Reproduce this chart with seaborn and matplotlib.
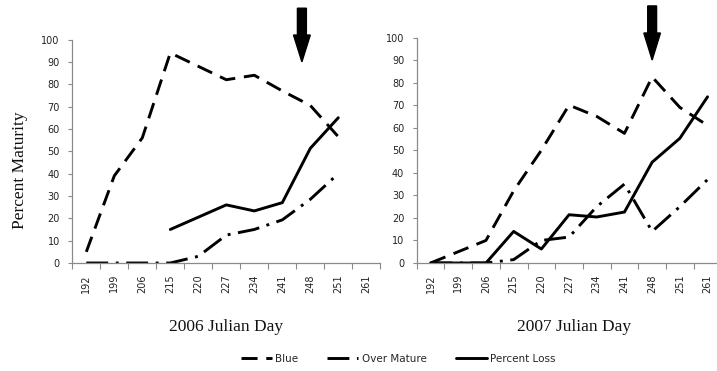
import numpy as np
import pandas as pd
import matplotlib
matplotlib.use("Agg")
import matplotlib.pyplot as plt
from matplotlib.lines import Line2D
from matplotlib.patches import FancyArrow
import seaborn as sns

# ---------------- data ----------------
days = ["192", "199", "206", "215", "220", "227", "234", "241", "248", "251", "261"]

blue_2006 = [5, 39, 56, 94, 88, 82, 84, 77, 70.5, 56.5, np.nan]
over_2006 = [0, 0, 0, 0, 3, 12.5, 15, 19.3, 28.5, 40, np.nan]
loss_2006 = [np.nan, np.nan, np.nan, 15, 20.5, 26, 23.3, 27, 51.3, 65, np.nan]

blue_2007 = [0, 5, 10, 32, 50, 70, 65, 57.5, 82.5, 69, 61]
over_2007 = [0, 0, 0, 1.5, 10, 11.5, 25, 35, 14, 25, 37]
loss_2007 = [0, 0, 0, 14, 6.2, 21.4, 20.4, 22.6, 44.7, 55.3, 73.7]

series_names = ["Blue", "Over Mature", "Percent Loss"]
panel_titles = ["2006 Julian Day", "2007 Julian Day"]
arrow_day = ["248", "248"]
y_ticks = list(range(0, 101, 10))

# ---------------- style ----------------
sns.set_style("white")
plt.rcParams["font.family"] = ["DejaVu Sans"]

W, H = 717, 371
fig = plt.figure(figsize=(W / 100, H / 100), dpi=100)

def frac(x0, y0, w, h):
    return [x0 / W, 1 - (y0 + h) / H, w / W, h / H]

ax_pos = [frac(72.3, 39.5, 308, 223.5), frac(416.7, 37.5, 304.7, 225.5)]

dash_map = {
    "Blue": (5.5, 3.0),
    "Over Mature": (7.5, 2.6, 1.0, 2.6),
    "Percent Loss": "",
}
LW = 2.1

def make_df(b, o, l):
    rows = []
    for name, vals in zip(series_names, [b, o, l]):
        for i, (d, v) in enumerate(zip(days, vals)):
            rows.append({"pos": i, "day": d, "series": name, "value": v})
    df = pd.DataFrame(rows)
    return df.dropna()

data = [make_df(blue_2006, over_2006, loss_2006),
        make_df(blue_2007, over_2007, loss_2007)]

axis_gray = "#8a8a8a"

for k in range(2):
    ax = fig.add_axes(ax_pos[k])
    sns.lineplot(data=data[k], x="pos", y="value", style="series",
                 style_order=series_names, dashes=dash_map, color="black",
                 linewidth=LW, legend=False, ax=ax, estimator=None, sort=True)
    ax.set_xlim(-0.5, len(days) - 0.5)
    ax.set_ylim(0, 100)
    ax.set_xticks(np.arange(-0.5, len(days), 1.0))
    ax.set_xticklabels([])
    ax.set_xticks(np.arange(len(days)), minor=True)
    ax.set_xticklabels(days, minor=True, rotation=90, fontsize=7, color="#222222")
    ax.tick_params(axis="x", which="major", length=4, width=0.8, color=axis_gray,
                   direction="out", bottom=True)
    ax.tick_params(axis="x", which="minor", length=0, pad=8)
    ax.set_yticks(y_ticks)
    ax.set_yticklabels([str(t) for t in y_ticks], fontsize=7, color="#222222")
    ax.tick_params(axis="y", length=3, width=0.8, color=axis_gray, direction="out",
                   left=True, pad=6)
    for s in ["top", "right"]:
        ax.spines[s].set_visible(False)
    for s in ["left", "bottom"]:
        ax.spines[s].set_color(axis_gray)
        ax.spines[s].set_linewidth(0.9)
    ax.set_xlabel("")
    ax.set_ylabel("")
    ax.grid(False)
    xa = days.index(arrow_day[k]) - (0.3 if k == 0 else 0.0)
    arr = FancyArrow(xa, 114, 0, -24, width=0.32, head_width=0.6,
                     head_length=12, length_includes_head=True,
                     color="black", clip_on=False)
    ax.add_patch(arr)
    cx = (ax_pos[k][0] + ax_pos[k][2] / 2) if k == 0 else 574 / W
    fig.text(cx, 1 - 327 / H, panel_titles[k], ha="center", va="center",
             fontsize=12.5, family="Liberation Serif", color="#111111")

fig.text(20 / W, 1 - 170 / H, "Percent Maturity", rotation=90, ha="center",
         va="center", fontsize=12.5, family="Liberation Serif", color="#111111")

handles = []
for n in series_names:
    h = Line2D([], [], color="black", linewidth=LW)
    if dash_map[n]:
        h.set_dashes(dash_map[n])
    handles.append(h)
fig.legend(handles, series_names, loc="center", bbox_to_anchor=(398 / W, 1 - 359 / H),
           ncol=3, frameon=False, fontsize=7.5, handlelength=3.0,
           handletextpad=0.3, columnspacing=2.8)

fig.savefig("out.png", dpi=100)
